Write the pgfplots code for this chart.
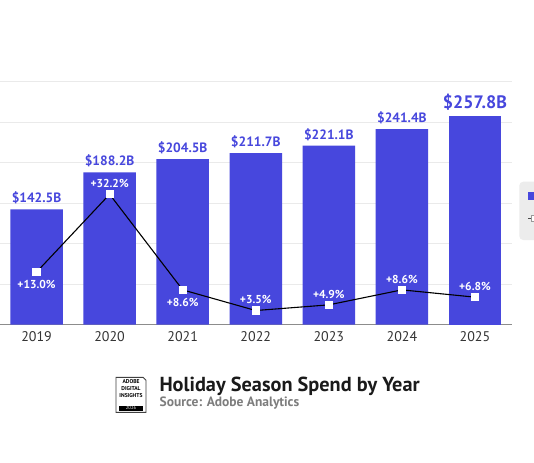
\documentclass[border=0pt]{standalone}
\usepackage{pgfplots}
\pgfplotsset{compat=1.18}
\usepackage{fontspec}
\setmainfont{PT Sans}
\definecolor{barblue}{RGB}{71,71,221}
\definecolor{gridgray}{RGB}{234,234,234}
\definecolor{txtdark}{RGB}{51,51,51}
\definecolor{legendgray}{RGB}{236,236,236}
\begin{document}
\begin{tikzpicture}[x=1pt,y=1pt]
\useasboundingbox (0,0) rectangle (534,-462);
\fill[white] (0,0) rectangle (534,-462);
\fill[legendgray, rounded corners=4pt] (519.3,-181.7) rectangle (560,-240);
\coordinate (O) at (0,-324.7);
\begin{axis}[
  at={(O)}, anchor=south west,
  scale only axis, width=511.5pt, height=243pt,
  xmin=-0.5, xmax=6.5, ymin=0, ymax=300,
  axis x line*=bottom, axis y line*=left,
  y axis line style={draw=none},
  x axis line style={draw=black!45, line width=1pt, -},
  ytick={50,100,150,200,250,300}, yticklabels={},
  xtick={0,1,2,3,4,5,6},
  xticklabels={2019,2020,2021,2022,2023,2024,2025},
  major tick length=0pt,
  ymajorgrids, grid style={draw=gridgray, line width=0.8pt},
  xticklabel style={font=\fontsize{14}{16}\selectfont, text=txtdark, yshift=-3pt},
  /pgf/number format/assume math mode=true,
  clip=false,
  legend style={at={(1.0313,0.546)}, anchor=north west, fill=none, draw=none,
    inner xsep=0pt, inner ysep=0pt, row sep=15pt,
    nodes={inner sep=0pt}},
]
\addlegendimage{legend image code/.code={\fill[barblue, sharp corners] (0pt,-3.5pt) rectangle (7pt,3.5pt);}}
\addlegendentry{}
\addlegendimage{legend image code/.code={\draw[black!70, line width=0.8pt, sharp corners] (0pt,0pt) -- (6pt,0pt); \draw[black!40, fill=white, line width=0.6pt, sharp corners] (3pt,-3pt) rectangle (9pt,3pt);}}
\addlegendentry{}
\addplot[ybar, bar width=52.5pt, bar shift=0pt, fill=barblue, draw=none, forget plot,
  point meta=explicit symbolic, nodes near coords,
  every node near coord/.style={font=\bfseries\fontsize{13.5}{15}\selectfont, text=barblue, inner sep=2pt, yshift=3pt}]
  coordinates {(0,142.5)[\$142.5B] (1,188.2)[\$188.2B] (2,204.5)[\$204.5B] (3,211.7)[\$211.7B] (4,221.1)[\$221.1B] (5,241.4)[\$241.4B]};
\addplot[ybar, bar width=52.5pt, bar shift=0pt, fill=barblue, draw=none, forget plot,
  point meta=explicit symbolic, nodes near coords,
  every node near coord/.style={font=\bfseries\fontsize{18}{20}\selectfont, text=barblue, inner sep=2pt, yshift=3pt}]
  coordinates {(6,257.8)[\$257.8B]};
\end{axis}
\begin{axis}[
  at={(O)}, anchor=south west,
  scale only axis, width=511.5pt, height=243pt,
  xmin=-0.5, xmax=6.5, ymin=0, ymax=60,
  hide axis, clip=false,
]
\addplot[black, line width=1.1pt, mark=square*, mark size=3.5pt, mark options={fill=white, draw=white}]
  coordinates {(0,13.0) (1,32.2) (2,8.6) (3,3.5) (4,4.9) (5,8.6) (6,6.8)};
\addplot[draw=none, mark=none, point meta=explicit symbolic, nodes near coords,
  every node near coord/.style={font=\bfseries\fontsize{11.5}{13}\selectfont, text=white, anchor=south, yshift=3pt}]
  coordinates {(1,32.2)[+32.2\%] (3,3.5)[+3.5\%] (4,4.9)[+4.9\%] (5,8.6)[+8.6\%] (6,6.8)[+6.8\%]};
\addplot[draw=none, mark=none, point meta=explicit symbolic, nodes near coords,
  every node near coord/.style={font=\bfseries\fontsize{11.5}{13}\selectfont, text=white, anchor=north, yshift=-5pt}]
  coordinates {(0,13.0)[+13.0\%] (2,8.6)[+8.6\%]};
\end{axis}
% logo
\draw[black!75, line width=0.9pt] (116,-377.3) -- (143,-377.3) -- (146,-380.3) -- (146,-412.3) -- (116,-412.3) -- cycle;
\node[font=\bfseries\fontsize{5.6}{7.4}\selectfont, align=center, inner sep=0pt] at (131,-388.6) {ADOBE\\DIGITAL\\INSIGHTS};
\fill[black] (119.3,-405.8) rectangle (142.7,-410.8);
\node[white, font=\fontsize{4.6}{4.6}\selectfont, inner sep=0pt] at (131,-408.3) {2026};
% title
\node[anchor=base west, inner sep=0pt, font=\bfseries\fontsize{20.3}{22}\selectfont, text={rgb,255:red,26;green,26;blue,26}] at (159.3,-391.7) {Holiday Season Spend by Year};
\node[anchor=base west, inner sep=0pt, font=\bfseries\fontsize{13.5}{15}\selectfont, text={rgb,255:red,125;green,125;blue,125}] at (159.5,-406.7) {Source: Adobe Analytics};
\end{tikzpicture}
\end{document}
